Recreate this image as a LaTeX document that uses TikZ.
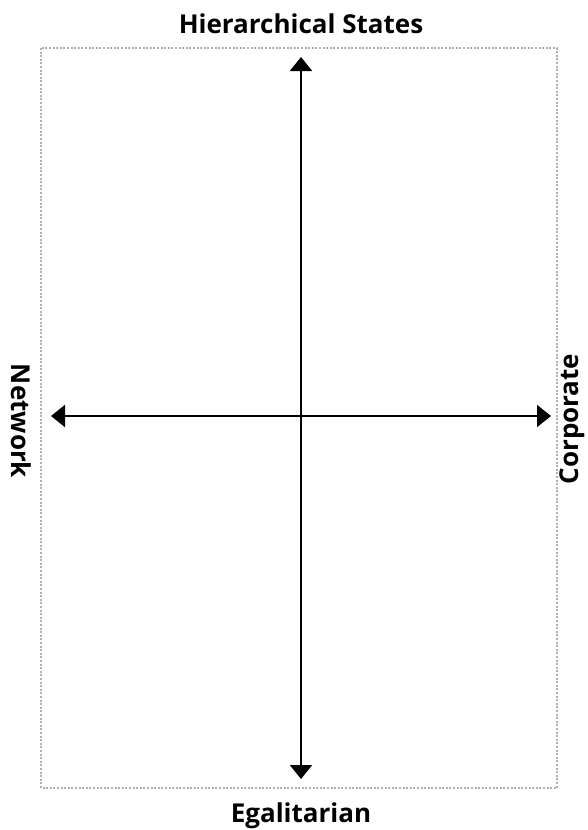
\documentclass[tikz,border=0pt]{standalone}
\usepackage{fontspec}
\setmainfont{Open Sans}
\usetikzlibrary{arrows.meta}
\definecolor{framegray}{RGB}{175,175,175}
\definecolor{axisblack}{RGB}{0,0,0}

\begin{document}
\begin{tikzpicture}[
    x=1pt, y=-1pt,
    frame/.style={draw=framegray, line width=1.6pt, dash pattern=on 2pt off 1.6pt},
    axis/.style={draw=axisblack, line width=1.8pt, {Triangle[width=22pt,length=14pt]}-{Triangle[width=22pt,length=14pt]}},
    pole/.style={font=\bfseries\fontsize{26}{30}\selectfont, inner sep=0pt}
]

% Bounding Box
\useasboundingbox (0,0) rectangle (587,830);

% Dotted Frame
\draw[frame] (41,48) rectangle (557,788);

% Axis End Points
\coordinate (top) at (301,57);
\coordinate (bottom) at (301,779);
\coordinate (left) at (51,416);
\coordinate (right) at (551,416);

% Axes
\draw[axis] (bottom) -- (top);
\draw[axis] (left) -- (right);

% Pole Labels
\node[pole] (hier) at (301,24) {Hierarchical States};
\node[pole] (egal) at (301,816) {Egalitarian};
\node[pole, rotate=-90] (net) at (21,421) {Network};
\node[pole, rotate=90] (corp) at (572,419) {Corporate};

\end{tikzpicture}
\end{document}
